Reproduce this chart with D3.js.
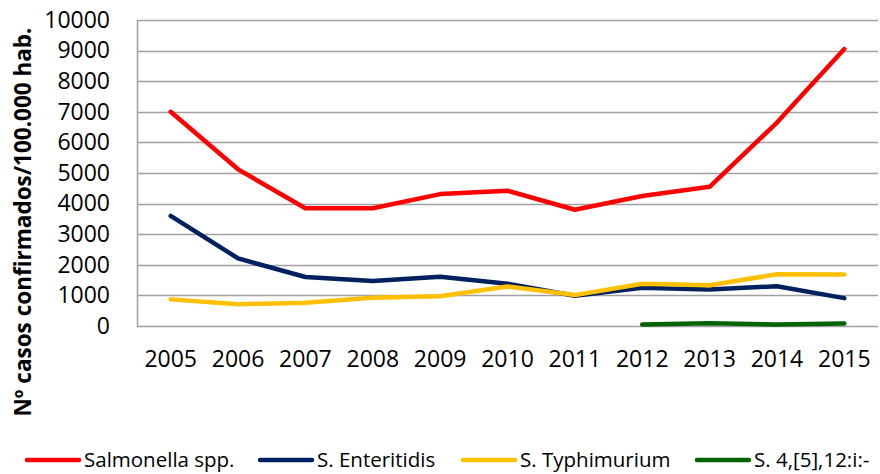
<!DOCTYPE html>
<html>
<head>
<meta charset="utf-8">
<script src="https://cdn.jsdelivr.net/npm/d3@7"></script>
<style>
  body { margin: 0; background: #fff; }
  svg text { font-family: "Open Sans", sans-serif; fill: #000; }
</style>
</head>
<body>
<div id="chartId"></div>
<script>

// Data

var years = ["2005", "2006", "2007", "2008", "2009", "2010", "2011", "2012", "2013", "2014", "2015"];

var salmonellaSpp = [7000, 5120, 3850, 3850, 4310, 4420, 3800, 4250, 4550, 6650, 9050];
var enteritidis   = [3600, 2210, 1600, 1470, 1610, 1380, 990, 1250, 1190, 1300, 910];
var typhimurium   = [870, 710, 760, 920, 970, 1290, 1010, 1380, 1330, 1690, 1680];
// monophasic variant only reported from 2012
var monophasic    = [null, null, null, null, null, null, null, 50, 90, 50, 80];

var yTicks = [0, 1000, 2000, 3000, 4000, 5000, 6000, 7000, 8000, 9000, 10000];

var seriesNames = ["Salmonella spp.", "S. Enteritidis", "S. Typhimurium", "S. 4,[5],12:i:-"];


(function() {

    "use strict";

    var full = {w: 880, h: 474};
    var plot = {left: 137, right: 878, top: 20, bottom: 326};

    var series = [
        {name: seriesNames[0], values: salmonellaSpp, color: "#ff0000"},
        {name: seriesNames[1], values: enteritidis,   color: "#002060"},
        {name: seriesNames[2], values: typhimurium,   color: "#ffc000"},
        {name: seriesNames[3], values: monophasic,    color: "#006400"}
    ];

    var svg = d3.select("#chartId")
                .append("svg")
                .attr("width", full.w)
                .attr("height", full.h);

    var xScale = d3.scaleBand()
                   .domain(years)
                   .range([plot.left, plot.right]);

    var yScale = d3.scaleLinear()
                   .domain([0, 10000])
                   .range([plot.bottom, plot.top]);

    // gridlines
    svg.append("g")
       .selectAll("line")
       .data(yTicks)
       .enter()
       .append("line")
         .attr("x1", plot.left)
         .attr("x2", plot.right)
         .attr("y1", function(d) { return Math.round(yScale(d)) + 0.5; })
         .attr("y2", function(d) { return Math.round(yScale(d)) + 0.5; })
         .attr("stroke", "#a0a0a0")
         .attr("stroke-width", 1.5);

    // y axis line
    svg.append("line")
       .attr("x1", plot.left + 0.5).attr("x2", plot.left + 0.5)
       .attr("y1", plot.top).attr("y2", plot.bottom + 1)
       .attr("stroke", "#a0a0a0")
       .attr("stroke-width", 1.5);

    // y tick labels
    var yAxis = d3.axisLeft(yScale).tickValues(yTicks).tickSize(0).tickPadding(27).tickFormat(d3.format("d"));
    var yAxisG = svg.append("g").attr("transform", "translate(" + plot.left + ",0)").call(yAxis);
    yAxisG.select(".domain").remove();
    yAxisG.selectAll("text").style("font-size", "23px").attr("font-family", null);

    // x tick labels
    var xAxis = d3.axisBottom(xScale).tickSize(0).tickPadding(25);
    var xAxisG = svg.append("g").attr("transform", "translate(0," + plot.bottom + ")").call(xAxis);
    xAxisG.select(".domain").remove();
    xAxisG.selectAll("text").style("font-size", "23px").attr("font-family", null);

    // y title
    svg.append("text")
       .attr("transform", "translate(31,222) rotate(-90)")
       .attr("text-anchor", "middle")
       .style("font-size", "22.5px")
       .style("font-weight", "bold")
       .text("Nº casos confirmados/100.000 hab.");

    // lines
    var line = d3.line()
                 .defined(function(d) { return d !== null; })
                 .x(function(d, i) { return xScale(years[i]) + xScale.bandwidth() / 2; })
                 .y(function(d) { return yScale(d); });

    svg.append("g")
       .selectAll("path")
       .data(series)
       .enter()
       .append("path")
         .attr("d", function(d) { return line(d.values); })
         .attr("fill", "none")
         .attr("stroke", function(d) { return d.color; })
         .attr("stroke-width", 4.5)
         .attr("stroke-linejoin", "round")
         .attr("stroke-linecap", "round");

    // legend
    var legendX = [27, 260, 463, 697];
    var legendY = 460;

    var legendItems = svg.append("g")
       .selectAll("g")
       .data(series)
       .enter()
       .append("g")
         .attr("transform", function(d, i) { return "translate(" + legendX[i] + "," + legendY + ")"; });

    legendItems.append("line")
       .attr("x1", 0).attr("x2", 52)
       .attr("y1", 0).attr("y2", 0)
       .attr("stroke", function(d) { return d.color; })
       .attr("stroke-width", 4.5)
       .attr("stroke-linecap", "round");

    legendItems.append("text")
       .attr("x", 57)
       .attr("dy", "0.35em")
       .style("font-size", "20.5px")
       .text(function(d) { return d.name; });

})();

</script>
</body>
</html>
